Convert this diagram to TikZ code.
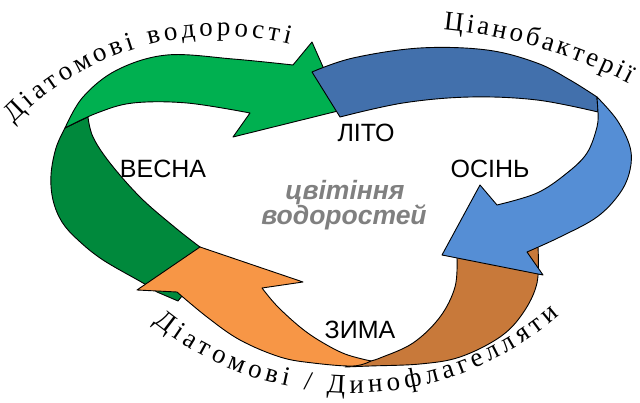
\documentclass[tikz,border=0pt]{standalone}
\usepackage{fontspec}
\setmainfont{Liberation Serif}
\newfontfamily\lblfont{Liberation Sans}
\newfontfamily\arcfont{Liberation Serif}
\usetikzlibrary{decorations.text}
\definecolor{glight}{RGB}{0,176,80}
\definecolor{gdark}{RGB}{0,137,60}
\definecolor{bdark}{RGB}{66,112,172}
\definecolor{blight}{RGB}{85,142,213}
\definecolor{olight}{RGB}{247,150,70}
\definecolor{obrown}{RGB}{200,121,58}
\definecolor{bloomgray}{RGB}{128,128,128}
\begin{document}
\begin{tikzpicture}[x=1pt,y=-1pt,
  rib/.style={draw=black, line width=0.9pt, line join=round},
  season/.style={font=\lblfont\fontsize{25}{25}\selectfont, text=black, anchor=base, inner sep=0pt},
  bloom/.style={font=\lblfont\bfseries\itshape\fontsize{26.5}{26.5}\selectfont, text=bloomgray, anchor=base, inner sep=0pt},
  arctext/.style={decorate, decoration={text along path, text align=fit to path, text={|\arcfont\fontsize{27}{27}\selectfont|#1}}}
]
\fill[white] (0,0) rectangle (640,403);
\useasboundingbox (0,0) rectangle (640,403);

% green ribbon
\filldraw[rib, fill=gdark] plot[smooth, tension=0.6] coordinates {(88,117) (93,137) (110,163) (140,197) (172,225) (200,247) (214,256)}
  -- (178,301) -- plot[smooth, tension=0.6] coordinates {(157,292) (143,283) (103,260) (78,240) (62,222) (53,200) (51,175) (56,148) (65,128)} -- cycle;
\filldraw[rib, fill=glight] plot[smooth, tension=0.6] coordinates {(65,128) (83,97) (117,70) (167,55) (233,59) (293,65)}
  -- (312,42) -- (342,110) -- (233,137)
  -- plot[smooth, tension=0.6] coordinates {(250,113) (187,103) (133,103) (97,113) (65,128)} -- cycle;

% orange ribbon
\filldraw[rib, fill=obrown] plot[smooth, tension=0.6] coordinates {(345,367) (370,366) (420,364) (460,357) (500,337) (523,313) (537,283) (538,247)}
  -- (457,255) -- plot[smooth, tension=0.6] coordinates {(457,258) (455,287) (440,317) (413,343) (380,358) (370,361)} -- cycle;
\filldraw[rib, fill=olight] (200,247) -- (303,282) -- (262,288)
  -- plot[smooth, tension=0.6] coordinates {(262,288) (277,306) (300,327) (320,341) (345,354) (371,361)}
  -- plot[smooth, tension=0.6] coordinates {(371,361) (353,366) (313,363) (280,357) (240,340) (207,317) (177,292)}
  -- (137,290) -- cycle;

% blue ribbon
\filldraw[rib, fill=bdark] (340,117) -- (312,72)
  -- plot[smooth, tension=0.6] coordinates {(312,72) (353,58) (420,48) (487,50) (537,63) (570,80) (597,97)}
  -- (598,112) -- plot[smooth, tension=0.6] coordinates {(598,112) (537,100) (470,97) (403,103) (340,117)} -- cycle;
\filldraw[rib, fill=blight] plot[smooth, tension=0.6] coordinates {(597,97) (617,120) (630,147) (630,170) (620,193) (597,217) (560,237) (527,252)}
  -- (543,275) -- (442,255) -- (480,185)
  -- plot[smooth, tension=0.6] coordinates {(497,205) (537,193) (567,173) (587,153) (597,127) (598,112)} -- cycle;

% season labels
\node[season] (vesna) at (163,178) {ВЕСНА};
\node[season] (lito) at (366,142) {ЛІТО};
\node[season] (osin) at (490,178) {ОСІНЬ};
\node[season] (zyma) at (360,338) {ЗИМА};

% centre text
\node[bloom] (bloom1) at (345,200) {цвітіння};
\node[bloom] (bloom2) at (344,225) {водоростей};

% curved labels
\path[arctext={Діатомові водорості}] ([shift={(-136:287)}]220,323) arc[start angle=-136, end angle=-76, radius=287];
\path[arctext={Ціанобактерії}] ([shift={(-84.5:515)}]394,542) arc[start angle=-84.5, end angle=-62.8, radius=515];
\path[arctext={Діатомові / Динофлагелляти}] ([shift={(129:316)}]352,77) arc[start angle=129, end angle=49, radius=316];
\end{tikzpicture}
\end{document}
